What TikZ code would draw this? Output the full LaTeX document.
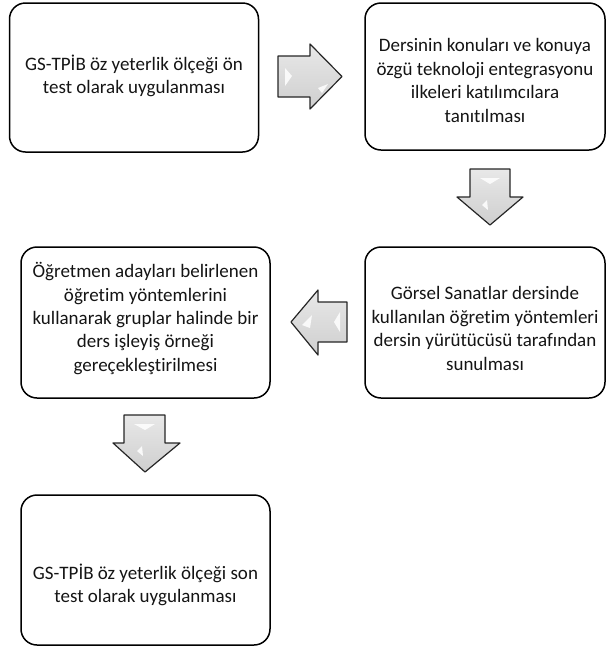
\documentclass[tikz,border=0pt]{standalone}
\usepackage{fontspec}
\setmainfont{Carlito}[Ligatures=CommonOff]
\begin{document}
\begin{tikzpicture}[x=1pt,y=-1pt,
  box/.style={draw=black, line width=1.5pt, rounded corners=16pt, inner sep=0pt},
  txt/.style={align=center, font=\fontsize{19}{23.4}\selectfont, inner sep=0pt, text=black!92},
  barrow/.style={draw=black!85, line width=1.2pt, line join=round, top color=gray!18, bottom color=gray!38},
  hilite/.style={fill=white, draw=none, opacity=0.85}]
\useasboundingbox (0,0) rectangle (608,646);
% boxes
\node[box, minimum width=249pt, minimum height=149pt] (b1) at (134,77.5) {};
\node[box, minimum width=240pt, minimum height=147pt] (b2) at (485,76.5) {};
\node[box, minimum width=240pt, minimum height=151pt] (b3) at (485,322.5) {};
\node[box, minimum width=249pt, minimum height=151pt] (b4) at (145.5,322.5) {};
\node[box, minimum width=249pt, minimum height=150pt] (b5) at (145.5,570) {};
% texts
\node[txt] (t1) at ([yshift=1.5pt]b1.center) {GS-TPİB öz yeterlik ölçeği ön\\test olarak uygulanması};
\node[txt] (t2) at ([yshift=-4pt]b2.center) {Dersinin konuları ve konuya\\özgü teknoloji entegrasyonu\\ilkeleri katılımcılara\\tanıtılması};
\node[txt] (t3) at ([yshift=-6pt]b3.center) {Görsel Sanatlar dersinde\\kullanılan öğretim yöntemleri\\dersin yürütücüsü tarafından\\sunulması};
\node[txt] (t4) at ([yshift=4pt]b4.center) {Öğretmen adayları belirlenen\\öğretim yöntemlerini\\kullanarak gruplar halinde bir\\ders işleyiş örneği\\gereçekleştirilmesi};
\node[txt] (t5) at ([yshift=-15pt]b5.center) {GS-TPİB öz yeterlik ölçeği son\\test olarak uygulanması};
% block arrows
% right arrow b1 -> b2
\path[barrow] (278,56) -- (310,56) -- (310,44) -- (342,76.5) -- (310,109) -- (310,97) -- (278,97) -- cycle;
\path[hilite] (285,68) -- (292,76) -- (285,86) -- cycle;
\path[hilite] (318,88) -- (328,84) -- (322,93) -- cycle;
% down arrow b2 -> b3
\path[barrow] (470,169) -- (510,169) -- (510,197) -- (523,197) -- (490,225) -- (457,197) -- (470,197) -- cycle;
\path[hilite] (480,178) -- (500,178) -- (490,184) -- cycle;
\path[hilite] (482,205) -- (487,200) -- (488,210) -- cycle;
% left arrow b3 -> b4
\path[barrow] (347,302) -- (318,302) -- (318,290) -- (291,322) -- (318,355) -- (318,342) -- (347,342) -- cycle;
\path[hilite] (340,312) -- (334,322) -- (340,332) -- cycle;
\path[hilite] (302,325) -- (312,315) -- (310,328) -- cycle;
% down arrow b4 -> b5
\path[barrow] (124,415) -- (165,415) -- (165,443) -- (180,443) -- (145,472) -- (113,443) -- (124,443) -- cycle;
\path[hilite] (134,424) -- (155,424) -- (145,430) -- cycle;
\path[hilite] (137,451) -- (142,446) -- (143,456) -- cycle;
\end{tikzpicture}
\end{document}
